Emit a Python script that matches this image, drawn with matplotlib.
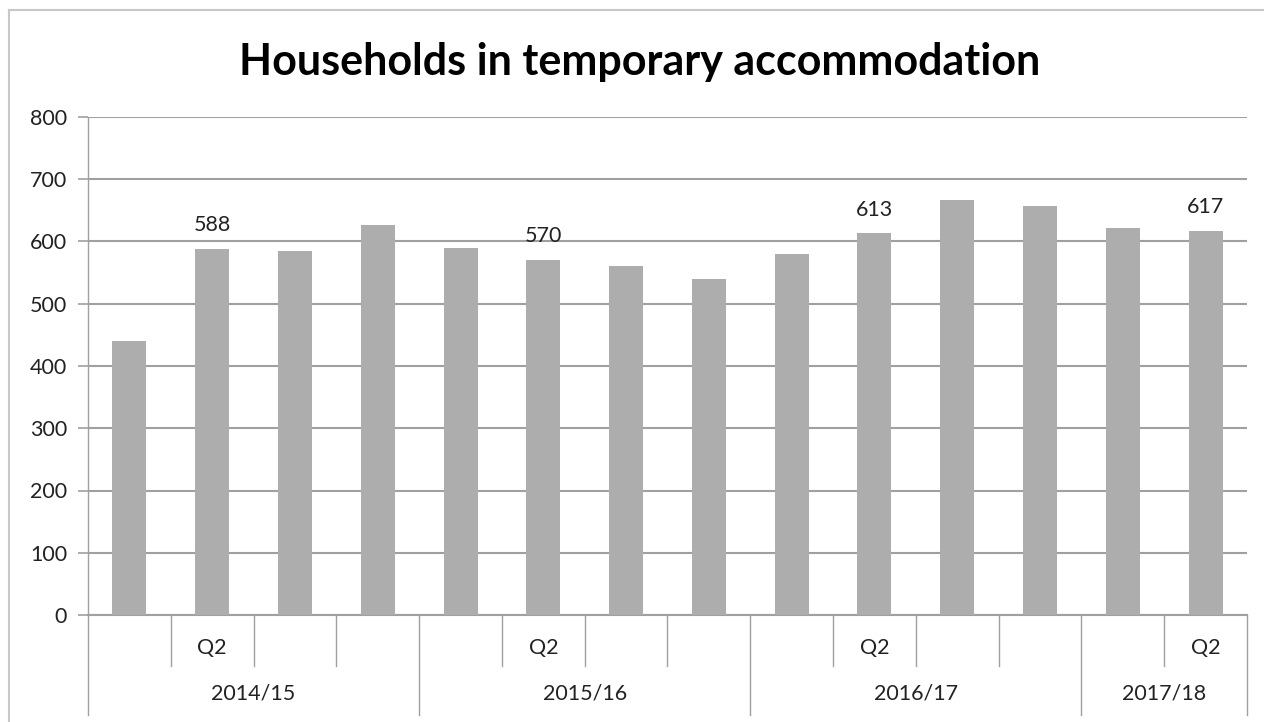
import numpy as np
import matplotlib.pyplot as plt
from matplotlib.lines import Line2D
import matplotlib.transforms as mtransforms

years = ["2014/15", "2015/16", "2016/17", "2017/18"]
quarters_per_year = [4, 4, 4, 2]
quarter_labels = ["", "Q2", "", "", "", "Q2", "", "", "", "Q2", "", "", "", "Q2"]
households = [440, 588, 585, 627, 590, 570, 560, 540, 580, 613, 667, 657, 622, 617]
labelled = [1, 5, 9, 13]

plt.rcParams['font.family'] = ['Lato', 'DejaVu Sans']

fig = plt.figure(figsize=(12.64, 7.22), dpi=100)
ax = fig.add_axes([88 / 1264, 1 - 615 / 722, (1247 - 88) / 1264, (615 - 117) / 722])

x = np.arange(len(households))
ax.bar(x, households, width=0.41, color='#adadad', zorder=3)

for i in labelled:
    ax.annotate(str(households[i]), (x[i], households[i]), xytext=(0, 10),
                textcoords='offset points', ha='center', va='bottom',
                fontsize=15.5, color='#222222')

ax.set_xlim(-0.5, len(households) - 0.5)
ax.set_ylim(0, 800)
ax.set_yticks(range(0, 801, 100))
ax.tick_params(axis='y', labelsize=15.5, labelcolor='#222222', color='#a0a0a0',
               length=7, width=1.2, pad=8)
ax.set_xticks([])
ax.grid(axis='y', color='#a0a0a0', linewidth=1.5, zorder=0)
for side in ['top', 'right']:
    ax.spines[side].set_visible(False)
ax.spines['left'].set_color('#a0a0a0')
ax.spines['bottom'].set_color('#a0a0a0')
ax.spines['left'].set_linewidth(1.0)
ax.spines['bottom'].set_linewidth(1.5)

# multi-level category axis
trans = mtransforms.blended_transform_factory(ax.transData, ax.transAxes)
quarter_drop = (666 - 615) / (615 - 117)
year_drop = (715 - 615) / (615 - 117)

for i, lab in enumerate(quarter_labels):
    ax.text(x[i], -(648 - 615) / (615 - 117), lab, transform=trans,
            ha='center', va='center', fontsize=15.5, color='#222222')

start = 0
edges = [-0.5]
for yr, n in zip(years, quarters_per_year):
    for k in range(1, n):
        xs = start + k - 0.5
        ax.add_line(Line2D([xs, xs], [0, -quarter_drop], transform=trans,
                           color='#a0a0a0', linewidth=1.0, clip_on=False))
    mid = start + (n - 1) / 2
    ax.text(mid, -(693 - 615) / (615 - 117), yr, transform=trans,
            ha='center', va='center', fontsize=15.5, color='#222222')
    start += n
    edges.append(start - 0.5)

for xs in edges:
    ax.add_line(Line2D([xs, xs], [0, -year_drop], transform=trans,
                       color='#a0a0a0', linewidth=1.0, clip_on=False))

fig.text(640 / 1264, 1 - 62 / 722, "Households in temporary accommodation",
         ha='center', va='center', fontsize=31, fontweight='bold', color='black')

# chart border (left and top visible)
fig.add_artist(Line2D([9 / 1264, 9 / 1264], [0, 1 - 10 / 722], transform=fig.transFigure,
                      color='#c8c8c8', linewidth=1.5))
fig.add_artist(Line2D([9 / 1264, 1], [1 - 10 / 722, 1 - 10 / 722], transform=fig.transFigure,
                      color='#c8c8c8', linewidth=1.5))

fig.savefig('out.png', dpi=100)
